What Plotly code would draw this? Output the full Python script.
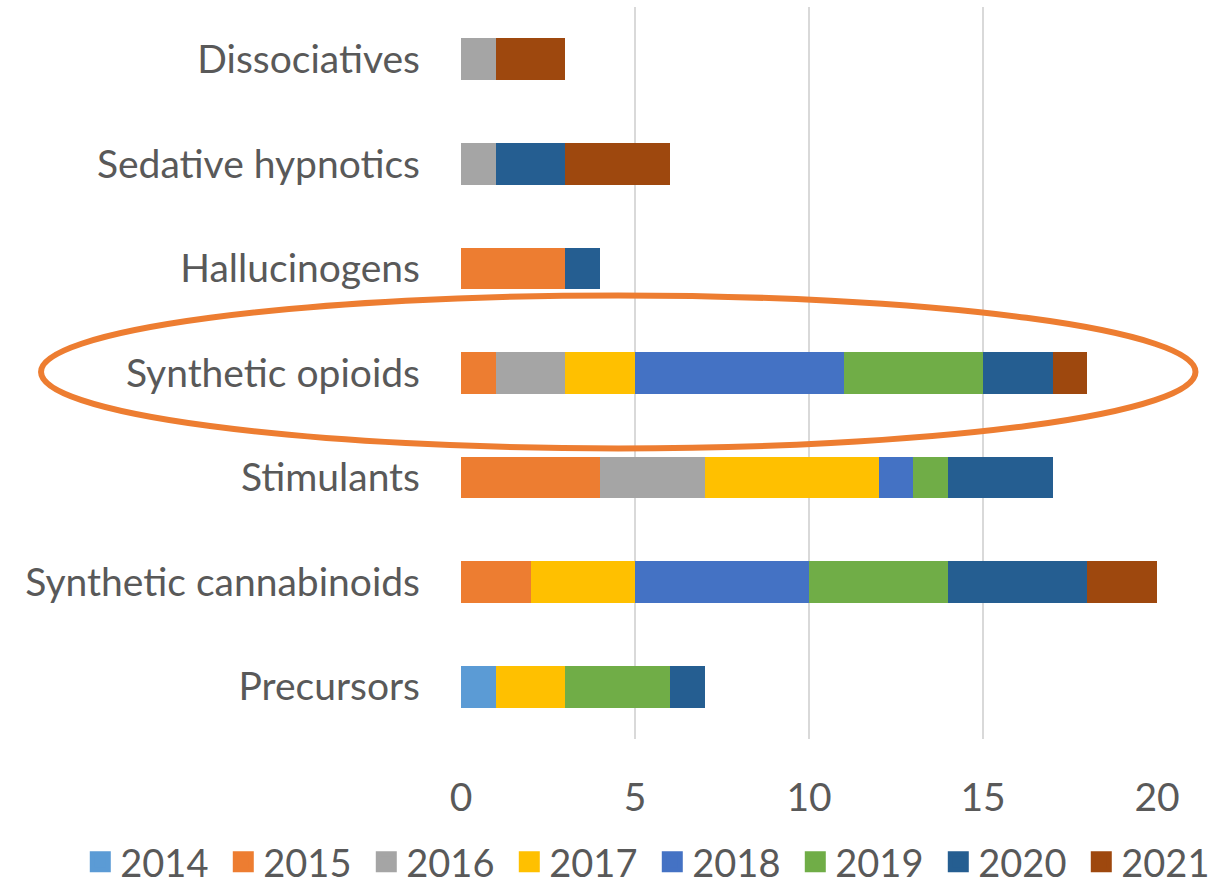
import plotly.graph_objects as go

categories = ["Precursors", "Synthetic cannabinoids", "Stimulants", "Synthetic opioids",
              "Hallucinogens", "Sedative hypnotics", "Dissociatives"]
years = ["2014", "2015", "2016", "2017", "2018", "2019", "2020", "2021"]
colors = ["#5B9BD5", "#ED7D31", "#A5A5A5", "#FFC000", "#4472C4", "#70AD47", "#255E91", "#9E480E"]

v2014 = [1, 0, 0, 0, 0, 0, 0]
v2015 = [0, 2, 4, 1, 3, 0, 0]
v2016 = [0, 0, 3, 2, 0, 1, 1]
v2017 = [2, 3, 5, 2, 0, 0, 0]
v2018 = [0, 5, 1, 6, 0, 0, 0]
v2019 = [3, 4, 1, 4, 0, 0, 0]
v2020 = [1, 4, 3, 2, 1, 2, 0]
v2021 = [0, 2, 0, 1, 0, 3, 2]
series = [v2014, v2015, v2016, v2017, v2018, v2019, v2020, v2021]

FONT = "Lato"
TXT = "#595959"
FS = 39

fig = go.Figure()
for yr, vals, col in zip(years, series, colors):
    fig.add_trace(go.Bar(y=categories, x=vals, orientation="h", name=yr,
                         marker=dict(color=col, line=dict(width=0)),
                         showlegend=False))
# legend entries
for yr, col in zip(years, colors):
    fig.add_trace(go.Scatter(x=[None], y=[None], mode="markers", name=yr,
                             marker=dict(symbol="square", size=16, color=col,
                                         line=dict(color=col, width=5)),
                             showlegend=True))

fig.update_layout(
    barmode="stack",
    bargap=0.6,
    width=1216, height=886,
    margin=dict(l=461, r=59, t=7, b=147, autoexpand=False),
    paper_bgcolor="white", plot_bgcolor="white",
    font=dict(family=FONT, size=FS, color=TXT),
    xaxis=dict(range=[0, 20], dtick=5, tick0=0, showgrid=True, gridcolor="#D9D9D9",
               gridwidth=2, zeroline=False, showline=False, ticks="",
               ticklabelstandoff=32, tickfont=dict(family=FONT, size=FS, color=TXT)),
    yaxis=dict(categoryorder="array", categoryarray=categories, showgrid=False,
               zeroline=False, showline=False, ticks="", ticklabelstandoff=40,
               tickfont=dict(family=FONT, size=FS, color=TXT)),
    legend=dict(orientation="h", xref="paper", yref="paper",
                x=-0.547, y=-0.168, xanchor="left", yanchor="middle",
                traceorder="normal", entrywidth=98,
                font=dict(family=FONT, size=38, color=TXT),
                itemclick=False, bgcolor="rgba(0,0,0,0)"),
    shapes=[dict(type="circle", xref="paper", yref="paper",
                 x0=-0.6034, x1=1.0553, y0=0.397, y1=0.606,
                 line=dict(color="#ED7D31", width=6), layer="above")],
)

fig.write_html("out.html", config={"displayModeBar": False},
               post_script="document.body.style.margin='0';")
